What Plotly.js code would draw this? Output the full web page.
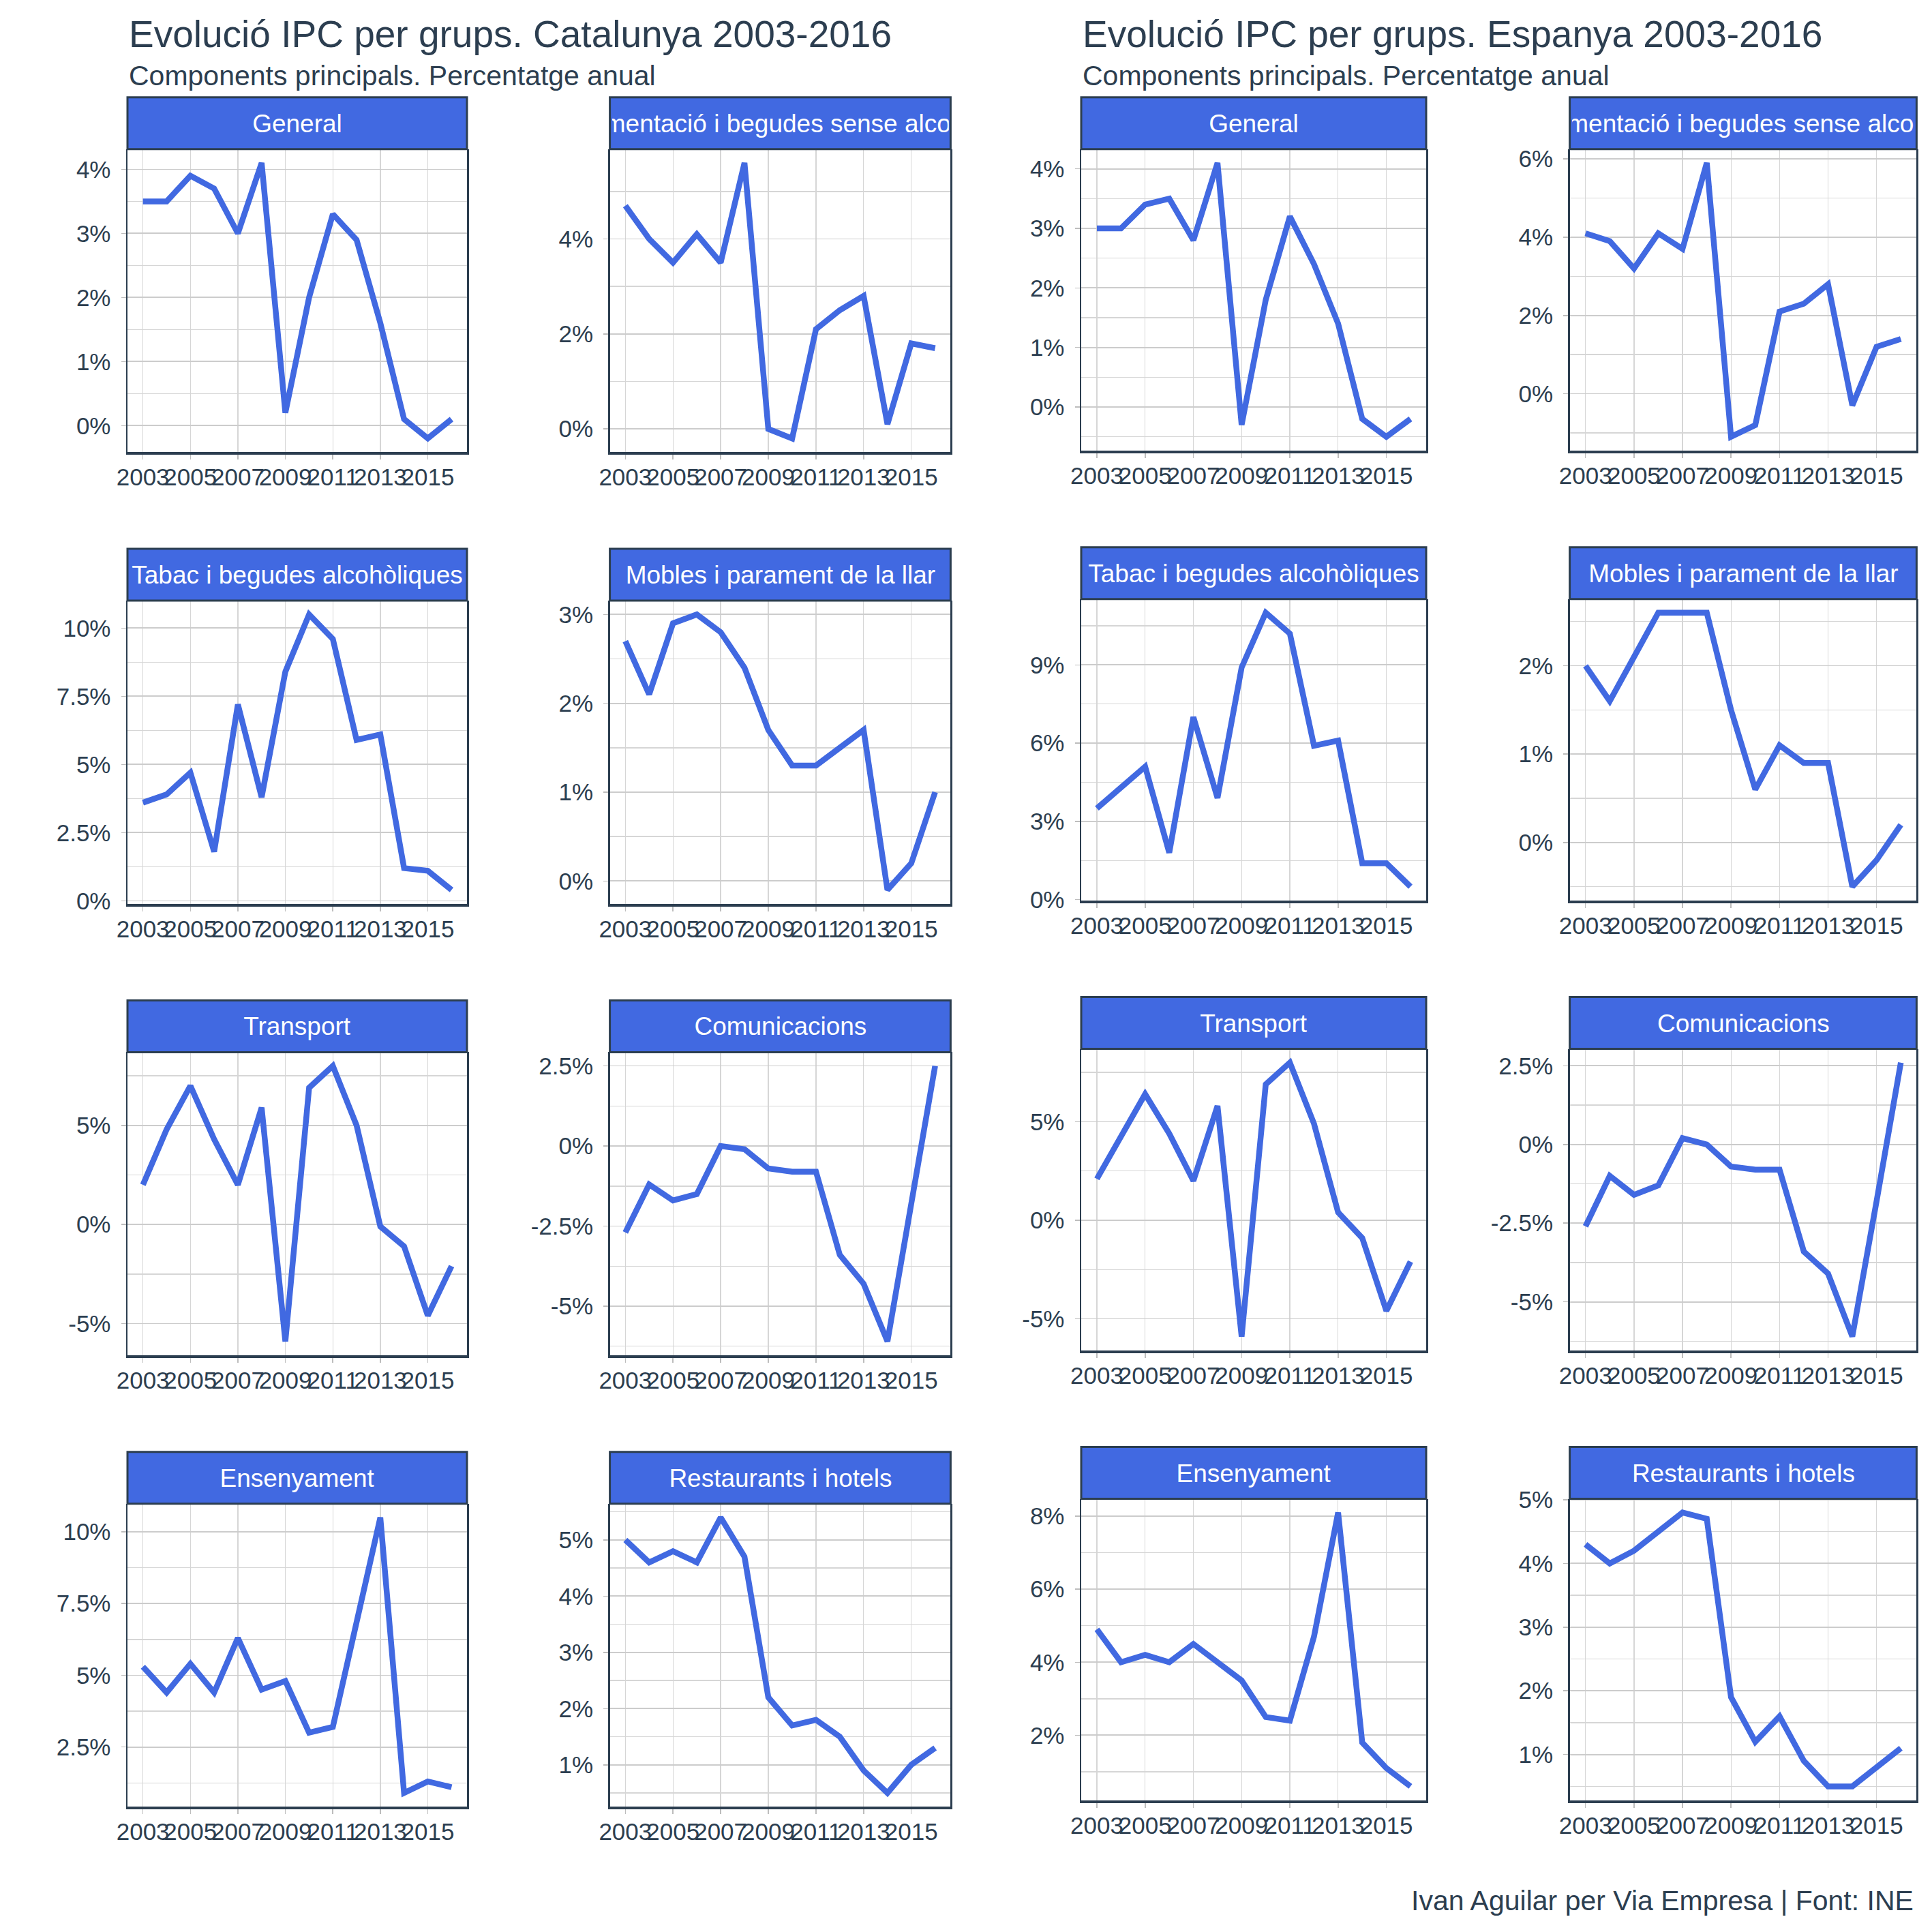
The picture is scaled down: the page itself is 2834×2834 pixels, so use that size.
<!DOCTYPE html>
<html><head><meta charset="utf-8">
<script src="https://cdn.plot.ly/plotly-3.0.1.min.js"></script>
<style>html,body{margin:0;padding:0;background:#fff}</style>
</head><body><div id="chart" style="width:2834px;height:2834px"></div>
<script>
// ---------- DATA ----------
const years = [2003,2004,2005,2006,2007,2008,2009,2010,2011,2012,2013,2014,2015,2016];
const xTickVals = [2003,2005,2007,2009,2011,2013,2015];
const groups = ["General","Alimentació i begudes sense alcohol","Tabac i begudes alcohòliques","Mobles i parament de la llar","Transport","Comunicacions","Ensenyament","Restaurants i hotels"];

// Catalunya
const cat_general       = [3.5,3.5,3.9,3.7,3.0,4.1,0.2,2.0,3.3,2.9,1.6,0.1,-0.2,0.1];
const cat_alimentacio   = [4.7,4.0,3.5,4.1,3.5,5.6,0.0,-0.2,2.1,2.5,2.8,0.1,1.8,1.7];
const cat_tabac         = [3.6,3.9,4.7,1.8,7.2,3.8,8.4,10.5,9.6,5.9,6.1,1.2,1.1,0.4];
const cat_mobles        = [2.7,2.1,2.9,3.0,2.8,2.4,1.7,1.3,1.3,1.5,1.7,-0.1,0.2,1.0];
const cat_transport     = [2.0,4.8,7.0,4.3,2.0,5.9,-5.9,6.9,8.0,5.0,-0.1,-1.1,-4.6,-2.1];
const cat_comunicacions = [-2.7,-1.2,-1.7,-1.5,0.0,-0.1,-0.7,-0.8,-0.8,-3.4,-4.3,-6.1,-1.8,2.5];
const cat_ensenyament   = [5.3,4.4,5.4,4.4,6.3,4.5,4.8,3.0,3.2,6.8,10.5,0.9,1.3,1.1];
const cat_restaurants   = [5.0,4.6,4.8,4.6,5.4,4.7,2.2,1.7,1.8,1.5,0.9,0.5,1.0,1.3];

// Espanya
const esp_general       = [3.0,3.0,3.4,3.5,2.8,4.1,-0.3,1.8,3.2,2.4,1.4,-0.2,-0.5,-0.2];
const esp_alimentacio   = [4.1,3.9,3.2,4.1,3.7,5.9,-1.1,-0.8,2.1,2.3,2.8,-0.3,1.2,1.4];
const esp_tabac         = [3.5,4.3,5.1,1.8,7.0,3.9,8.9,11.0,10.2,5.9,6.1,1.4,1.4,0.5];
const esp_mobles        = [2.0,1.6,2.1,2.6,2.6,2.6,1.5,0.6,1.1,0.9,0.9,-0.5,-0.2,0.2];
const esp_transport     = [2.1,4.3,6.4,4.4,2.0,5.8,-5.9,6.9,8.0,4.9,0.4,-0.9,-4.6,-2.1];
const esp_comunicacions = [-2.6,-1.0,-1.6,-1.3,0.2,0.0,-0.7,-0.8,-0.8,-3.4,-4.1,-6.1,-1.8,2.6];
const esp_ensenyament   = [4.9,4.0,4.2,4.0,4.5,4.0,3.5,2.5,2.4,4.7,8.1,1.8,1.1,0.6];
const esp_restaurants   = [4.3,4.0,4.2,4.5,4.8,4.7,1.9,1.2,1.6,0.9,0.5,0.5,0.8,1.1];

// y tick labels (breaks, in %)
const cat_breaks = [[0,1,2,3,4],[0,2,4],[0,2.5,5,7.5,10],[0,1,2,3],[-5,0,5],[-5,-2.5,0,2.5],[2.5,5,7.5,10],[1,2,3,4,5]];
const esp_breaks = [[0,1,2,3,4],[0,2,4,6],[0,3,6,9],[0,1,2],[-5,0,5],[-5,-2.5,0,2.5],[2,4,6,8],[1,2,3,4,5]];

const titleCat = "Evolució IPC per grups. Catalunya 2003-2016";
const titleEsp = "Evolució IPC per grups. Espanya 2003-2016";
const subtitle = "Components principals. Percentatge anual";
const caption = "Ivan Aguilar per Via Empresa | Font: INE";

// ---------- STYLE / LAYOUT ----------
const W = 2834, H = 2834;
const FONT = "Liberation Sans, Arial, sans-serif";
const DARK = "#2c3e50";
const BLUE = "#4169E1";

const halves = [
  {series:[cat_general,cat_alimentacio,cat_tabac,cat_mobles,cat_transport,cat_comunicacions,cat_ensenyament,cat_restaurants],
   breaks:cat_breaks, title:titleCat,
   cols:[[187,685],[894.6,1394.4]], top:142.8, pitch:662.3, stripH:76, panelH:520.5},
  {series:[esp_general,esp_alimentacio,esp_tabac,esp_mobles,esp_transport,esp_comunicacions,esp_ensenyament,esp_restaurants],
   breaks:esp_breaks, title:titleEsp,
   cols:[[1586,2092],[2302.6,2811.4]], top:142.8, pitch:659.9, stripH:76, panelH:518}
];

const traces = [];
const layout = {
  width: W, height: H, autosize: false,
  margin: {l:0, r:0, t:0, b:0, pad:0},
  paper_bgcolor: "#ffffff", plot_bgcolor: "#ffffff",
  font: {family: FONT, color: DARK},
  showlegend: false,
  shapes: [], annotations: []
};

const xr = [years[0] - 0.05*(years[years.length-1]-years[0]), years[years.length-1] + 0.05*(years[years.length-1]-years[0])];

halves.forEach((h, hi) => {
  for (let i = 0; i < 8; i++) {
    const k = hi*8 + i + 1;
    const sfx = k === 1 ? "" : String(k);
    const row = Math.floor(i/2), col = i % 2;
    const [x0, x1] = h.cols[col];
    const sTop = h.top + row*h.pitch;
    const sBot = sTop + h.stripH;
    const pBot = sTop + h.panelH;
    const vals = h.series[i];
    const mn = Math.min(...vals), mx = Math.max(...vals), rg = mx - mn;
    const br = h.breaks[i];
    const step = br[1] - br[0];
    const minor = [];
    for (let v = br[0] - step*1.5; v <= br[br.length-1] + step*1.5 + 1e-9; v += step) minor.push(+v.toFixed(4));

    traces.push({
      x: years, y: vals, type: "scatter", mode: "lines",
      xaxis: "x"+sfx, yaxis: "y"+sfx,
      line: {color: BLUE, width: 8.5},
      hoverinfo: "skip", showlegend: false
    });

    layout["xaxis"+sfx] = {
      domain: [x0/W, x1/W], anchor: "y"+sfx,
      range: xr, tickmode: "array", tickvals: xTickVals, ticktext: xTickVals.map(String),
      tickangle: 0, showgrid: true, gridcolor: "#d6d6d6", gridwidth: 1.3,
      zeroline: false, showline: true, linecolor: DARK, linewidth: 4, mirror: false,
      ticks: "outside", ticklen: 7, tickwidth: 1.5, tickcolor: "#bdbdbd",
      ticklabelstandoff: -4,
      tickfont: {family: FONT, size: 35, color: DARK}, fixedrange: true
    };
    layout["yaxis"+sfx] = {
      domain: [1 - pBot/H, 1 - sBot/H], anchor: "x"+sfx,
      range: [mn - 0.05*rg, mx + 0.05*rg],
      tickmode: "array", tickvals: br, ticktext: br.map(v => String(v) + "%"),
      showgrid: true, gridcolor: "#cccccc", gridwidth: 1.8,
      minor: {tickmode: "array", tickvals: minor, showgrid: true, gridcolor: "#d6d6d6", gridwidth: 1.4, ticks: ""},
      zeroline: false, showline: true, mirror: true, linecolor: DARK, linewidth: 2.5,
      ticks: "outside", ticklen: 7, tickwidth: 1.5, tickcolor: "#bdbdbd",
      ticklabelstandoff: 8,
      tickfont: {family: FONT, size: 35, color: DARK}, fixedrange: true
    };

    // facet strip
    layout.shapes.push({
      type: "rect", xref: "paper", yref: "paper",
      x0: x0/W, x1: x1/W, y0: 1 - sBot/H, y1: 1 - sTop/H,
      fillcolor: BLUE, line: {color: DARK, width: 3}, layer: "above"
    });
    layout.annotations.push({
      xref: "paper", yref: "paper", x: (x0+x1)/2/W, y: 1 - (sTop+sBot)/2/H,
      xanchor: "center", yanchor: "middle", showarrow: false,
      text: groups[i], width: (x1-x0) - 6, height: h.stripH - 6, align: "center",
      font: {family: FONT, size: 37, color: "#ffffff"}, borderpad: 0
    });
  }
  // titles
  const tx = h.cols[0][0];
  layout.annotations.push({
    xref: "paper", yref: "paper", x: tx/W, y: 1 - 50/H, xanchor: "left", yanchor: "middle",
    showarrow: false, text: h.title, font: {family: FONT, size: 55, color: DARK}
  });
  layout.annotations.push({
    xref: "paper", yref: "paper", x: tx/W, y: 1 - 111/H, xanchor: "left", yanchor: "middle",
    showarrow: false, text: subtitle, font: {family: FONT, size: 41, color: DARK}
  });
});

layout.annotations.push({
  xref: "paper", yref: "paper", x: 2809/W, y: 1 - 2788/H, xanchor: "right", yanchor: "middle",
  showarrow: false, text: caption, font: {family: FONT, size: 41, color: DARK}
});

Plotly.newPlot("chart", traces, layout, {staticPlot: true, displayModeBar: false});
</script>
</body></html>
